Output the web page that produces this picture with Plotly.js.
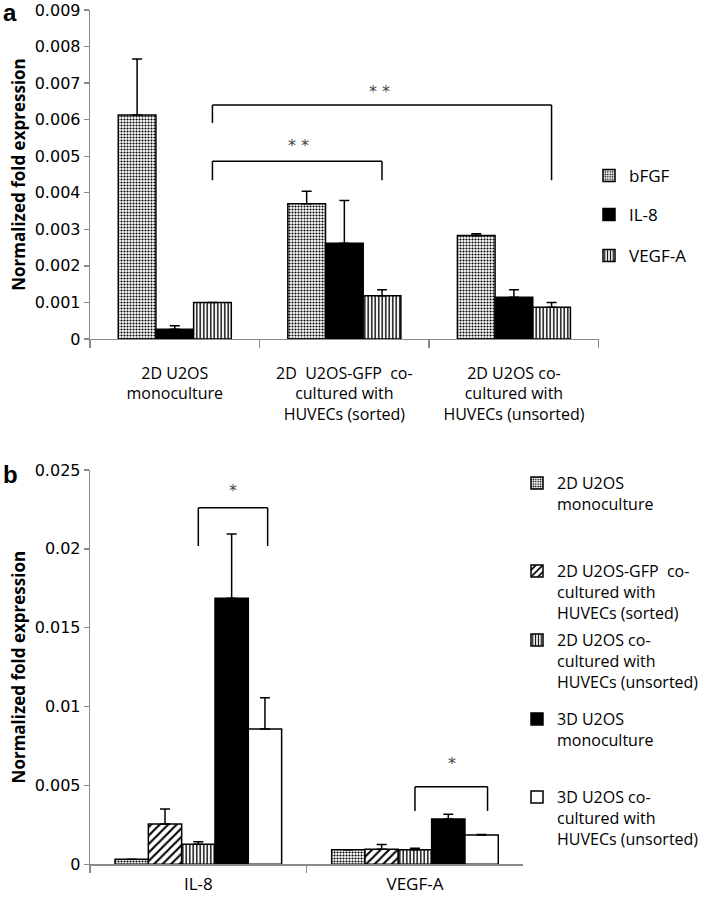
<!DOCTYPE html>
<html>
<head>
<meta charset="utf-8">
<script src="https://cdn.plot.ly/plotly-3.0.1.min.js"></script>
<style>html,body{margin:0;padding:0;background:#fff;}#chart{width:714px;height:899px;}</style>
</head>
<body>
<div id="chart"></div>
<script>
// ---------- Panel a data ----------
const catsA = ["2D U2OS<br>monoculture", "2D  U2OS-GFP  co-<br>cultured with<br>HUVECs (sorted)", "2D U2OS co-<br>cultured with<br>HUVECs (unsorted)"];
const seriesA = ["bFGF", "IL-8", "VEGF-A"];
const bFGF = [0.00613, 0.00370, 0.00283];
const bFGFErr = [0.00153, 0.00034, 0.00005];
const il8A = [0.00027, 0.00262, 0.00114];
const il8AErr = [0.00009, 0.00117, 0.00021];
const vegfA = [0.00100, 0.00118, 0.00087];
const vegfAErr = [0.0, 0.00017, 0.00013];
const yTicksA = [0, 0.001, 0.002, 0.003, 0.004, 0.005, 0.006, 0.007, 0.008, 0.009];
const yTickTextA = ["0", "0.001", "0.002", "0.003", "0.004", "0.005", "0.006", "0.007", "0.008", "0.009"];

// ---------- Panel b data ----------
const catsB = ["IL-8", "VEGF-A"];
const seriesB = ["2D U2OS<br>monoculture", "2D U2OS-GFP  co-<br>cultured with<br>HUVECs (sorted)", "2D U2OS co-<br>cultured with<br>HUVECs (unsorted)", "3D U2OS<br>monoculture", "3D U2OS co-<br>cultured with<br>HUVECs (unsorted)"];
const mono2D = [0.00032, 0.00092];
const mono2DErr = [0.0, 0.0];
const sorted2D = [0.00256, 0.00095];
const sorted2DErr = [0.00095, 0.00030];
const unsorted2D = [0.00127, 0.00092];
const unsorted2DErr = [0.00016, 0.00010];
const mono3D = [0.01687, 0.00287];
const mono3DErr = [0.00407, 0.00030];
const co3D = [0.00858, 0.00186];
const co3DErr = [0.00198, 0.00003];
const yTicksB = [0, 0.005, 0.01, 0.015, 0.02, 0.025];
const yTickTextB = ["0", "0.005", "0.01", "0.015", "0.02", "0.025"];

// significance brackets: [xLeft, xRight, yTop, yLeftBottom, yRightBottom, label, labelX, labelY]
const bracketsA = [
  [0.222, 2.222, 0.00640, 0.00591, 0.00434, "* *", 1.21, 0.00677],
  [0.222, 1.222, 0.00486, 0.00434, 0.00434, "* *", 0.73, 0.00529]
];
const bracketsB = [
  [0.0, 0.32, 0.02261, 0.02018, 0.02018, "*", 0.16, 0.02373],
  [1.0, 1.335, 0.00492, 0.00338, 0.00338, "*", 1.17, 0.0064]
];

// ---------- styling helpers ----------
const W = 714, H = 899;
const px2x = p => p / W;
const px2y = p => 1 - p / H;
const outline = {color: "#000", width: 1.5};
const dots = {shape: ".", fgcolor: "#000", bgcolor: "#fff", size: 3, solidity: 0.4};
const vlines = {shape: "|", fgcolor: "#000", bgcolor: "#fff", size: 3.5, solidity: 0.4};
const diag = {shape: "/", fgcolor: "#000", bgcolor: "#fff", size: 6, solidity: 0.35};
function err(a) { return {type: "data", array: a, arrayminus: a.map(() => 0), symmetric: false, color: "#000", thickness: 1.5, width: 5}; }

const wA = 0.2222, wB = 0.1538;
function barA(i, y, e, marker, legendId) {
  return {type: "bar", x: catsA, y: y, name: seriesA[i], xaxis: "x", yaxis: "y",
    width: wA, offset: -1.5 * wA + i * wA, marker: marker, error_y: err(e), legend: legendId, hoverinfo: "skip"};
}
function barB(i, y, e, marker, legendId) {
  return {type: "bar", x: catsB, y: y, name: seriesB[i], xaxis: "x2", yaxis: "y2",
    width: wB, offset: -2.5 * wB + i * wB, marker: marker, error_y: err(e), legend: legendId, hoverinfo: "skip"};
}

const traces = [
  barA(0, bFGF, bFGFErr, {color: "#fff", pattern: dots, line: outline}, "legend"),
  barA(1, il8A, il8AErr, {color: "#000", line: outline}, "legend2"),
  barA(2, vegfA, vegfAErr, {color: "#fff", pattern: vlines, line: outline}, "legend3"),
  barB(0, mono2D, mono2DErr, {color: "#fff", pattern: dots, line: outline}, "legend4"),
  barB(1, sorted2D, sorted2DErr, {color: "#fff", pattern: diag, line: outline}, "legend5"),
  barB(2, unsorted2D, unsorted2DErr, {color: "#fff", pattern: vlines, line: outline}, "legend6"),
  barB(3, mono3D, mono3DErr, {color: "#000", line: outline}, "legend7"),
  barB(4, co3D, co3DErr, {color: "#fff", line: outline}, "legend8")
];

const shapes = [], annotations = [];
function addBrackets(list, xr, yr) {
  list.forEach(b => {
    const [xl, xrr, yt, ylb, yrb, lab, lx, ly] = b;
    const ln = {color: "#000", width: 1.5};
    shapes.push({type: "line", xref: xr, yref: yr, x0: xl, x1: xl, y0: ylb, y1: yt, line: ln});
    shapes.push({type: "line", xref: xr, yref: yr, x0: xl, x1: xrr, y0: yt, y1: yt, line: ln});
    shapes.push({type: "line", xref: xr, yref: yr, x0: xrr, x1: xrr, y0: yrb, y1: yt, line: ln});
    annotations.push({xref: xr, yref: yr, x: lx, y: ly, text: lab, showarrow: false,
      font: {family: "DejaVu Sans", size: 16, color: "#444"}});
  });
}
addBrackets(bracketsA, "x", "y");
addBrackets(bracketsB, "x2", "y2");
annotations.push({xref: "paper", yref: "paper", x: px2x(1), y: px2y(-3), xanchor: "left", yanchor: "top",
  text: "<b>a</b>", showarrow: false, font: {family: "Liberation Sans", size: 24, color: "#000"}});
annotations.push({xref: "paper", yref: "paper", x: px2x(1), y: px2y(459), xanchor: "left", yanchor: "top",
  text: "<b>b</b>", showarrow: false, font: {family: "Liberation Sans", size: 24, color: "#000"}});

const axisCommon = {showline: true, linecolor: "#8a8a8a", linewidth: 1.3, showgrid: false, zeroline: false,
  ticks: "outside", tickcolor: "#8a8a8a", tickwidth: 1.3, automargin: false, fixedrange: true};
const titleFont = {family: "Open Sans", size: 17, color: "#000", weight: "bold"};

function leg(xpx, ytoppx, size) {
  return {x: px2x(xpx), y: px2y(ytoppx), xanchor: "left", yanchor: "top", bgcolor: "rgba(0,0,0,0)",
    borderwidth: 0, valign: "top", font: {family: "Open Sans", size: size, color: "#000"}, itemclick: false, itemdoubleclick: false};
}

const layout = {
  width: W, height: H, margin: {l: 0, r: 0, t: 0, b: 0},
  paper_bgcolor: "#fff", plot_bgcolor: "#fff", barmode: "overlay", showlegend: true,
  xaxis: Object.assign({}, axisCommon, {domain: [px2x(90), px2x(598.7)], anchor: "y", type: "category",
    range: [-0.5, 2.5], tickson: "boundaries", ticklen: 8, ticklabelstandoff: 19,
    tickfont: {family: "Open Sans", size: 16, color: "#000"}}),
  yaxis: Object.assign({}, axisCommon, {domain: [px2y(339), px2y(10)], anchor: "x", range: [0, 0.009],
    tickmode: "array", tickvals: yTicksA, ticktext: yTickTextA, ticklen: 5, ticklabeloverflow: "allow",
    tickfont: {family: "DejaVu Sans", size: 16, color: "#000"},
    title: {text: "Normalized fold expression", font: titleFont, standoff: 4}}),
  xaxis2: Object.assign({}, axisCommon, {domain: [px2x(90), px2x(523.3)], anchor: "y2", type: "category",
    range: [-0.5, 1.5], tickson: "boundaries", ticklen: 7, ticklabelstandoff: 4,
    tickfont: {family: "Open Sans", size: 17, color: "#000"}}),
  yaxis2: Object.assign({}, axisCommon, {domain: [px2y(864.3), px2y(470)], anchor: "x2", range: [0, 0.025],
    tickmode: "array", tickvals: yTicksB, ticktext: yTickTextB, ticklen: 5, ticklabeloverflow: "allow",
    tickfont: {family: "DejaVu Sans", size: 16, color: "#000"},
    title: {text: "Normalized fold expression", font: titleFont, standoff: 4}}),
  legend: leg(589, 158, 17),
  legend2: leg(589, 197, 17),
  legend3: leg(589, 238, 17),
  legend4: leg(517, 466, 16),
  legend5: leg(517, 554, 16),
  legend6: leg(517, 623, 16),
  legend7: leg(517, 702, 16),
  legend8: leg(517, 780, 16),
  shapes: shapes, annotations: annotations
};

Plotly.newPlot("chart", traces, layout, {staticPlot: true, displayModeBar: false});
</script>
</body>
</html>
